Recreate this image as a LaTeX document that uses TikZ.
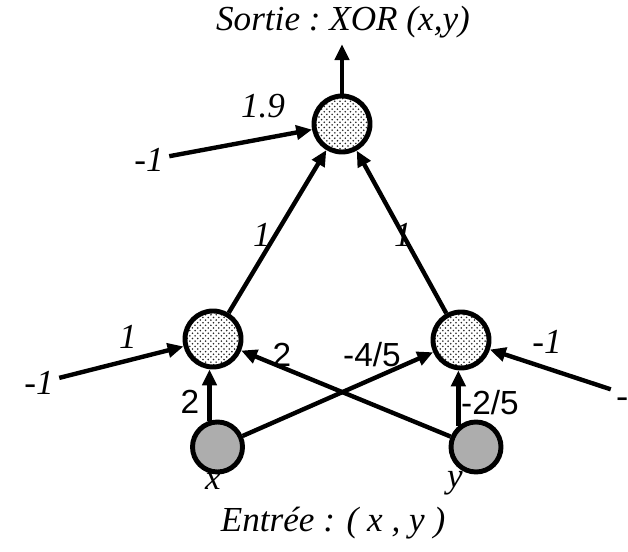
\documentclass[tikz,border=0pt]{standalone}
\usepackage{fontspec}
\setmainfont{Liberation Serif}
\setsansfont{Liberation Sans}
\usetikzlibrary{arrows.meta, patterns}

\begin{document}
\begin{tikzpicture}[
    >={Triangle[length=9pt, width=8pt]},
    neuron/.style={circle, draw=black, line width=2.8pt, inner sep=0pt},
    hidden/.style={neuron, minimum size=1.12cm, preaction={fill=white},
        pattern=crosshatch dots, pattern color=black!85},
    inneuron/.style={neuron, minimum size=1.0cm, fill=black!32},
    tl/.style={font=\fontsize{20}{20}\selectfont\itshape},
    wl/.style={font=\fontsize{20}{20}\selectfont\itshape, inner sep=3pt},
    ws/.style={font=\fontsize{19}{19}\selectfont\sffamily, inner sep=1pt},
    arr/.style={->, line width=2.5pt},
]
\useasboundingbox (0,0) rectangle (12.56,-11.04);

% --- Neurons ---
\node[hidden] (top) at (6.84, -2.48) {};
\node[hidden] (hl) at (4.26, -6.78) {};
\node[hidden] (hr) at (9.22, -6.80) {};
\node[inneuron] (xin) at (4.35, -8.94) {};
\node[inneuron] (yin) at (9.52, -8.94) {};

% --- Texts ---
\node[tl] (title) at (6.86, -0.44) {Sortie :\ XOR (x,y)};
\node[tl] (entree) at (6.66, -10.46) {Entrée : ( x , y )};
\node[tl, inner sep=0pt] (xlab) at (4.26, -9.62) {x};
\node[tl, inner sep=0pt] (ylab) at (9.10, -9.66) {y};

% --- Bias inputs ---
\node[wl] (btop) at (2.98, -3.20) {-1};
\node[wl] (bhl) at (0.78, -7.66) {-1};
\node[wl] (bhr) at (12.62, -7.92) {-1};

% Output
\draw[arr] (top) -- (top |- title.south);

% Bias connections
\draw[arr] (btop) -- (top);
\draw[arr] (bhl) -- (hl);
\draw[arr] (bhr) -- (hr);

% Hidden -> output
\draw[arr] (hl) -- (top);
\draw[arr] (hr) -- (top);

% Inputs -> hidden
\draw[arr] (xin.107) -- (hl.south -| xin.107);
\draw[arr] (yin.130) -- (hr.south -| yin.130);
\draw[arr] (xin) -- (hr);
\draw[arr] (yin) -- (hl);

% Weights
\node[wl] (w19) at (5.26, -2.12) {1.9};
\node[wl] (wbl) at (2.56, -6.74) {1};
\node[wl] (wbr) at (10.94, -6.84) {-1};
\node[wl] (wtl) at (5.24, -4.70) {1};
\node[wl] (wtr) at (8.06, -4.70) {1};
\node[ws] (wyl) at (5.64, -7.10) {2};
\node[ws] (wxr) at (7.44, -7.10) {-4/5};
\node[ws] (wxl) at (3.80, -8.04) {2};
\node[ws] (wyr) at (9.80, -8.06) {-2/5};

\end{tikzpicture}
\end{document}
